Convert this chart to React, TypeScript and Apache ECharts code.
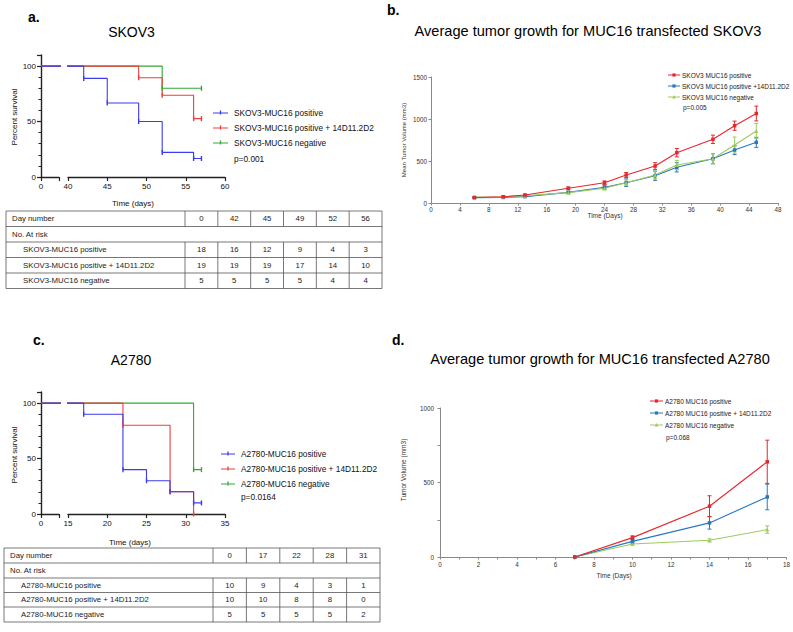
import React, { useEffect, useRef } from 'react';
import * as echarts from 'echarts';

const FONT = '"Liberation Sans", Arial, Helvetica, sans-serif';

// ---------- Panel a: SKOV3 survival ----------
const kmATitle = 'SKOV3';
const kmANames = ['SKOV3-MUC16 positive', 'SKOV3-MUC16 positive + 14D11.2D2', 'SKOV3-MUC16 negative'];
const kmAPositive = [[0, 100], [42, 88.9], [45, 66.7], [49, 50], [52, 22.2], [56, 16.7], [57, 16.7]];
const kmAAntibody = [[0, 100], [49, 89.5], [52, 73.7], [56, 52.6], [57, 52.6]];
const kmANegative = [[0, 100], [52, 80], [57, 80]];
const kmAP = 'p=0.001';
const tableADays = ['0', '42', '45', '49', '52', '56'];
const tableAPositive = [18, 16, 12, 9, 4, 3];
const tableAAntibody = [19, 19, 19, 17, 14, 10];
const tableANegative = [5, 5, 5, 5, 4, 4];

// ---------- Panel b: SKOV3 tumor growth ----------
const bTitle = 'Average tumor growth for MUC16 transfected SKOV3';
const bNames = ['SKOV3 MUC16 positive', 'SKOV3 MUC16 positive +14D11.2D2', 'SKOV3 MUC16 negative'];
const bP = 'p=0.005';
const bDays = [6, 10, 13, 19, 24, 27, 31, 34, 39, 42, 45];
const bPositive = [66, 75, 95, 175, 242, 333, 440, 599, 758, 920, 1065];
const bPositiveErr = [6, 8, 10, 15, 20, 30, 40, 50, 50, 55, 88];
const bAntibody = [62, 66, 76, 127, 187, 242, 325, 425, 527, 631, 722];
const bAntibodyErr = [5, 5, 8, 12, 25, 45, 55, 55, 60, 55, 60];
const bNegative = [70, 74, 87, 123, 175, 242, 333, 452, 527, 690, 857];
const bNegativeErr = [5, 5, 8, 12, 20, 35, 45, 55, 60, 95, 90];

// ---------- Panel c: A2780 survival ----------
const kmCTitle = 'A2780';
const kmCNames = ['A2780-MUC16 positive', 'A2780-MUC16 positive + 14D11.2D2', 'A2780-MUC16 negative'];
const kmCPositive = [[0, 100], [17, 90], [22, 40], [25, 30], [28, 20], [31, 10], [32, 10]];
const kmCAntibody = [[0, 100], [22, 80], [28, 20], [31, 0]];
const kmCNegative = [[0, 100], [31, 40], [32, 40]];
const kmCP = 'p=0.0164';
const tableCDays = ['0', '17', '22', '28', '31'];
const tableCPositive = [10, 9, 4, 3, 1];
const tableCAntibody = [10, 10, 8, 8, 0];
const tableCNegative = [5, 5, 5, 5, 2];

// ---------- Panel d: A2780 tumor growth ----------
const dTitle = 'Average tumor growth for MUC16 transfected A2780';
const dNames = ['A2780 MUC16 positive', 'A2780 MUC16 positive + 14D11.2D2', 'A2780 MUC16 negative'];
const dP = 'p=0.068';
const dDays = [7, 10, 14, 17];
const dPositive = [0, 130, 341, 639];
const dPositiveErr = [0, 12, 70, 145];
const dAntibody = [0, 105, 229, 403];
const dAntibodyErr = [0, 12, 42, 86];
const dNegative = [0, 87, 112, 184];
const dNegativeErr = [0, 6, 10, 25];

const KM_COLORS = ['#3b3bf0', '#ee3c3c', '#36a836'];
const TG_COLORS = ['#e8262d', '#2878c0', '#9ccc5c'];
const AX = '#222';

function txt(x: number, y: number, text: string, size: number, o: any = {}) {
  return {
    type: 'text', x, y, rotation: o.rotation || 0, silent: true, z: 10,
    style: {
      text, fontSize: size, fontFamily: FONT, fontWeight: o.bold ? 'bold' : 'normal',
      fill: o.color || '#111', align: o.align || 'left', textAlign: o.align || 'left',
      verticalAlign: 'middle', textVerticalAlign: 'middle',
    },
  };
}
function seg(x1: number, y1: number, x2: number, y2: number, stroke: string, lw = 1) {
  return { type: 'line', silent: true, z: 10, shape: { x1, y1, x2, y2 }, style: { stroke, lineWidth: lw } };
}

function kmLegend(names: string[], p: string, ys: number[], pY: number, lx1: number, lx2: number, tx: number) {
  const els: any[] = [];
  names.forEach((n, i) => {
    els.push(seg(lx1, ys[i], lx2, ys[i], KM_COLORS[i], 1));
    const m = (lx1 + lx2) / 2;
    els.push(seg(m, ys[i] - 2.5, m, ys[i] + 1.5, KM_COLORS[i], 1.3));
    els.push(txt(tx, ys[i], n, 8.3));
  });
  els.push(txt(tx, pY, p, 8.3));
  return els;
}

function tgLegend(names: string[], p: string, ys: number[], pY: number, lx1: number, lx2: number, tx: number) {
  const els: any[] = [];
  names.forEach((n, i) => {
    els.push(seg(lx1, ys[i], lx2, ys[i], TG_COLORS[i], 1));
    const m = (lx1 + lx2) / 2;
    if (i < 2) {
      els.push({ type: 'rect', silent: true, z: 10, shape: { x: m - 1.6, y: ys[i] - 1.6, width: 3.2, height: 3.2 }, style: { fill: TG_COLORS[i] } });
    } else {
      els.push({ type: 'polygon', silent: true, z: 10, shape: { points: [[m, ys[i] - 2], [m - 1.8, ys[i] + 1.4], [m + 1.8, ys[i] + 1.4]] }, style: { fill: TG_COLORS[i] } });
    }
    els.push(txt(tx, ys[i], n, 6.5, { color: '#222' }));
  });
  els.push(txt(tx + 1, pY, p, 6.5, { color: '#222' }));
  return els;
}

function tableEls(x0: number, xs: number, x1: number, rowY: number[], days: string[], rows: { label: string; values: number[] }[]) {
  const els: any[] = [];
  const st = '#555';
  els.push({ type: 'rect', silent: true, z: 10, shape: { x: x0, y: rowY[0], width: x1 - x0, height: rowY[5] - rowY[0] }, style: { fill: 'none', stroke: st, lineWidth: 0.8 } });
  for (let r = 1; r < 5; r++) els.push(seg(x0, rowY[r], x1, rowY[r], st, 0.8));
  const n = days.length;
  const cw = (x1 - xs) / n;
  for (let i = 0; i < n; i++) {
    const x = xs + cw * i;
    els.push(seg(x, rowY[0], x, rowY[1], st, 0.8));
    els.push(seg(x, rowY[2], x, rowY[5], st, 0.8));
  }
  const mid = (r: number) => (rowY[r] + rowY[r + 1]) / 2;
  const fs = 7.8;
  els.push(txt(x0 + 6, mid(0), 'Day number', fs, { color: '#222' }));
  days.forEach((d, i) => els.push(txt(xs + cw * (i + 0.5), mid(0), d, fs, { align: 'center', color: '#222' })));
  els.push(txt(x0 + 6, mid(1), 'No. At risk', fs, { color: '#222' }));
  rows.forEach((row, r) => {
    els.push(txt(x0 + 17, mid(r + 2), row.label, fs, { color: '#222' }));
    row.values.forEach((v, i) => els.push(txt(xs + cw * (i + 0.5), mid(r + 2), String(v), fs, { align: 'center', color: '#222' })));
  });
  return els;
}

function kmLine(name: string, data: number[][], color: string, axis: number) {
  return {
    name, type: 'line', step: 'end', xAxisIndex: axis, yAxisIndex: axis,
    data: data.map((p, i) => (i === 0 ? { value: p, symbol: 'none' } : { value: p })),
    symbol: 'rect', symbolSize: [1.4, 5], showAllSymbol: true,
    lineStyle: { color, width: 1.1 }, itemStyle: { color }, clip: true, silent: true, z: 3,
  };
}

function tgLine(name: string, days: number[], vals: number[], color: string, axis: number, symbol: string) {
  return {
    name, type: 'line', xAxisIndex: axis, yAxisIndex: axis,
    data: days.map((d, i) => [d, vals[i]]),
    symbol, symbolSize: symbol === 'triangle' ? 4 : 3.5, showAllSymbol: true,
    lineStyle: { color, width: 1.1 }, itemStyle: { color }, silent: true, z: 4,
  };
}

function errBars(days: number[], vals: number[], errs: number[], color: string, axis: number) {
  return {
    type: 'custom', xAxisIndex: axis, yAxisIndex: axis, silent: true, z: 3,
    data: days.map((d, i) => [d, vals[i] - errs[i], vals[i] + errs[i], errs[i]]),
    renderItem: (params: any, api: any) => {
      if (api.value(3) === 0) return { type: 'group', children: [] };
      const lo = api.coord([api.value(0), api.value(1)]);
      const hi = api.coord([api.value(0), api.value(2)]);
      const w = 2;
      const s = { stroke: color, lineWidth: 1 };
      return {
        type: 'group',
        children: [
          { type: 'line', shape: { x1: lo[0], y1: lo[1], x2: hi[0], y2: hi[1] }, style: s },
          { type: 'line', shape: { x1: hi[0] - w, y1: hi[1], x2: hi[0] + w, y2: hi[1] }, style: s },
          { type: 'line', shape: { x1: lo[0] - w, y1: lo[1], x2: lo[0] + w, y2: lo[1] }, style: s },
        ],
      };
    },
  };
}

const kmAxisLine = { show: true, lineStyle: { color: AX, width: 1.4 } };
const kmTick = { show: true, length: 4, lineStyle: { color: AX, width: 1.2 } };
const kmLabel = { fontSize: 8, fontFamily: FONT, color: '#111', margin: 5 };

function kmX(grid: number, min: number, max: number, interval: number, onlyZero: boolean) {
  return {
    gridIndex: grid, type: 'value', min, max, interval,
    axisLine: kmAxisLine, axisTick: kmTick, splitLine: { show: false },
    axisLabel: { ...kmLabel, formatter: (v: number) => (onlyZero ? (v === 0 ? '0' : '') : String(v)) },
  };
}
function kmY(grid: number, visible: boolean) {
  return {
    gridIndex: grid, type: 'value', min: 0, max: 110, interval: 50, show: visible,
    axisLine: kmAxisLine, axisTick: kmTick,
    minorTick: { show: true, splitNumber: 5, length: 2.5, lineStyle: { color: AX, width: 1 } },
    splitLine: { show: false },
    axisLabel: { ...kmLabel, formatter: (v: number) => (v % 50 === 0 ? String(v) : '') },
  };
}

const tgAxisLine = { show: true, lineStyle: { color: '#8a8a8a', width: 1 } };
const tgTick = { show: true, length: 2.5, lineStyle: { color: '#8a8a8a', width: 1 } };
const tgLabel = { fontSize: 6.3, fontFamily: FONT, color: '#333' };

export default function App() {
  const ref = useRef<HTMLDivElement>(null);
  useEffect(() => {
    if (!ref.current) return;
    const chart = echarts.init(ref.current, null, { renderer: 'svg', width: 793, height: 632 });
    const graphic: any[] = [
      txt(28, 17, 'a.', 14, { bold: true, color: '#000' }),
      txt(131.5, 32, kmATitle, 14, { align: 'center', color: '#000' }),
      txt(387, 10, 'b.', 14, { bold: true, color: '#000' }),
      txt(588, 31, bTitle, 14.6, { align: 'center', color: '#000' }),
      txt(33, 340, 'c.', 14, { bold: true, color: '#000' }),
      txt(131, 360, kmCTitle, 14, { align: 'center', color: '#000' }),
      txt(392, 340, 'd.', 14, { bold: true, color: '#000' }),
      txt(600, 359, dTitle, 14.6, { align: 'center', color: '#000' }),
      txt(14, 117, 'Percent survival', 8, { align: 'center', rotation: Math.PI / 2 }),
      txt(14, 455, 'Percent survival', 8, { align: 'center', rotation: Math.PI / 2 }),
      txt(133, 203, 'Time (days)', 8, { align: 'center' }),
      txt(130, 542, 'Time (days)', 8, { align: 'center' }),
      txt(404, 140, 'Mean Tumor Volume (mm3)', 6, { align: 'center', rotation: Math.PI / 2, color: '#333' }),
      txt(605, 215, 'Time (Days)', 6.5, { align: 'center', color: '#333' }),
      txt(403, 470, 'Tumor Volume (mm3)', 6.5, { align: 'center', rotation: Math.PI / 2, color: '#333' }),
      txt(614, 575, 'Time (Days)', 6.5, { align: 'center', color: '#333' }),
      ...kmLegend(kmANames, kmAP, [113, 128, 143], 159, 213, 228, 234),
      ...kmLegend(kmCNames, kmCP, [454, 469, 484], 497, 221, 235, 241),
      ...tgLegend(bNames, bP, [75, 86, 97], 107, 668, 680, 682),
      ...tgLegend(dNames, dP, [401, 413, 425], 437, 650, 663, 665),
      ...tableEls(6, 185, 382, [211, 226.5, 242, 257.5, 273, 288.5], tableADays, [
        { label: kmANames[0], values: tableAPositive },
        { label: kmANames[1], values: tableAAntibody },
        { label: kmANames[2], values: tableANegative },
      ]),
      ...tableEls(4, 213, 380, [548, 563, 578, 592.5, 607, 622], tableCDays, [
        { label: kmCNames[0], values: tableCPositive },
        { label: kmCNames[1], values: tableCAntibody },
        { label: kmCNames[2], values: tableCNegative },
      ]),
    ];

    const option: any = {
      animation: false,
      backgroundColor: '#ffffff',
      textStyle: { fontFamily: FONT },
      grid: [
        { left: 41, top: 55, width: 18, height: 122 },
        { left: 68, top: 55, width: 157, height: 122 },
        { left: 431, top: 77, width: 347, height: 126 },
        { left: 41, top: 392, width: 18, height: 122 },
        { left: 68, top: 392, width: 157, height: 122 },
        { left: 440, top: 408, width: 347, height: 149 },
      ],
      xAxis: [
        kmX(0, 0, 4, 4, true),
        kmX(1, 40, 60, 5, false),
        {
          gridIndex: 2, type: 'value', min: 0, max: 48, interval: 4,
          axisLine: tgAxisLine, axisTick: tgTick, splitLine: { show: false },
          axisLabel: { ...tgLabel, margin: 3, formatter: (v: number) => String(v) },
        },
        kmX(3, 0, 4, 4, true),
        kmX(4, 15, 35, 5, false),
        {
          gridIndex: 5, type: 'value', min: 0, max: 18, interval: 1,
          axisLine: tgAxisLine, axisTick: tgTick, splitLine: { show: false },
          axisLabel: { ...tgLabel, margin: 4, formatter: (v: number) => (v % 2 === 0 ? String(v) : '') },
        },
      ],
      yAxis: [
        kmY(0, true),
        kmY(1, false),
        {
          gridIndex: 2, type: 'value', min: 0, max: 1500, interval: 500,
          axisLine: tgAxisLine, axisTick: tgTick, splitLine: { show: false },
          axisLabel: { ...tgLabel, margin: 4, formatter: (v: number) => String(v) },
        },
        kmY(3, true),
        kmY(4, false),
        {
          gridIndex: 5, type: 'value', min: 0, max: 1000, interval: 250,
          axisLine: tgAxisLine, axisTick: tgTick, splitLine: { show: false },
          axisLabel: { ...tgLabel, margin: 6, formatter: (v: number) => (v % 500 === 0 ? String(v) : '') },
        },
      ],
      series: [
        ...[0, 1].flatMap((ax) => [
          kmLine(kmANames[2], kmANegative, KM_COLORS[2], ax),
          kmLine(kmANames[1], kmAAntibody, KM_COLORS[1], ax),
          kmLine(kmANames[0], kmAPositive, KM_COLORS[0], ax),
        ]),
        ...[3, 4].flatMap((ax) => [
          kmLine(kmCNames[2], kmCNegative, KM_COLORS[2], ax),
          kmLine(kmCNames[1], kmCAntibody, KM_COLORS[1], ax),
          kmLine(kmCNames[0], kmCPositive, KM_COLORS[0], ax),
        ]),
        errBars(bDays, bAntibody, bAntibodyErr, TG_COLORS[1], 2),
        errBars(bDays, bNegative, bNegativeErr, TG_COLORS[2], 2),
        errBars(bDays, bPositive, bPositiveErr, TG_COLORS[0], 2),
        tgLine(bNames[1], bDays, bAntibody, TG_COLORS[1], 2, 'rect'),
        tgLine(bNames[2], bDays, bNegative, TG_COLORS[2], 2, 'triangle'),
        tgLine(bNames[0], bDays, bPositive, TG_COLORS[0], 2, 'rect'),
        errBars(dDays, dNegative, dNegativeErr, TG_COLORS[2], 5),
        errBars(dDays, dAntibody, dAntibodyErr, TG_COLORS[1], 5),
        errBars(dDays, dPositive, dPositiveErr, TG_COLORS[0], 5),
        tgLine(dNames[2], dDays, dNegative, TG_COLORS[2], 5, 'triangle'),
        tgLine(dNames[1], dDays, dAntibody, TG_COLORS[1], 5, 'rect'),
        tgLine(dNames[0], dDays, dPositive, TG_COLORS[0], 5, 'rect'),
      ],
      graphic,
    };
    chart.setOption(option);
    return () => chart.dispose();
  }, []);
  return <div ref={ref} style={{ position: 'absolute', left: 0, top: 0, width: 793, height: 632 }} />;
}
